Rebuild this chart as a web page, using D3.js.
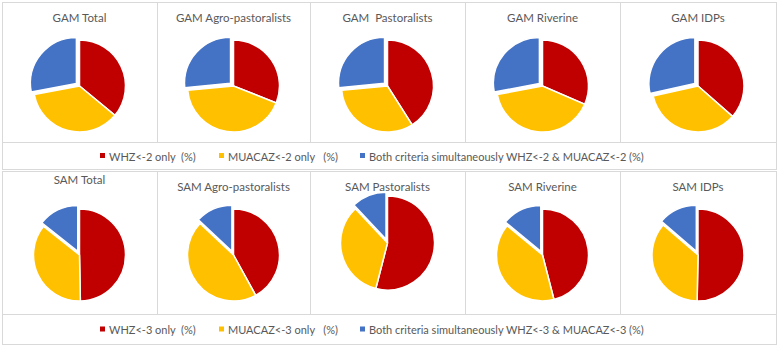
<!DOCTYPE html>
<html>
<head>
<meta charset="utf-8">
<script src="https://cdn.jsdelivr.net/npm/d3@7"></script>
<style>
  body { margin: 0; background: #fff; }
  text { font-family: Lato, "Open Sans", sans-serif; white-space: pre; }
</style>
</head>
<body>
<div id="chart"></div>
<script>
// Panel titles
const gamTitles = ['GAM Total', 'GAM Agro-pastoralists', 'GAM  Pastoralists', 'GAM Riverine', 'GAM IDPs'];
const samTitles = ['SAM Total', 'SAM Agro-pastoralists', 'SAM Pastoralists', 'SAM Riverine', 'SAM IDPs'];

// Shares (%), one value per panel
const gamWhzOnly = [36, 31, 41, 31.5, 36.5];
const gamMuacOnly = [36, 42.5, 32.5, 40.5, 35];
const gamBoth = [28, 26.5, 26.5, 28, 28.5];

const samWhzOnly = [49.7, 42, 54, 46, 50.3];
const samMuacOnly = [36, 45, 34, 40, 36];
const samBoth = [14.3, 13, 12, 14, 13.7];

// Legend labels
const gamLegend = ['WHZ<-2 only  (%)', 'MUACAZ<-2 only   (%)', 'Both criteria simultaneously WHZ<-2 & MUACAZ<-2 (%)'];
const samLegend = ['WHZ<-3 only  (%)', 'MUACAZ<-3 only   (%)', 'Both criteria simultaneously WHZ<-3 & MUACAZ<-3 (%)'];

const colors = ['#C00000', '#FFC000', '#4472C4'];

const width = 778;
const height = 346;

const svg = d3.select('#chart')
    .append('svg')
    .attr('width', width)
    .attr('height', height);

// Panel grid
const colEdges = [2, 157, 310, 465, 620, 776];
const rows = [
    { top: 2, bottom: 142, legendBottom: 169, titles: gamTitles, series: [gamWhzOnly, gamMuacOnly, gamBoth], legend: gamLegend, pieY: 86 },
    { top: 171, bottom: 314, legendBottom: 344, titles: samTitles, series: [samWhzOnly, samMuacOnly, samBoth], legend: samLegend, pieY: 255 }
];
const radius = 46;
const explode = 4;
const borderColor = '#d9d9d9';

const pie = d3.pie().sort(null).value(d => d);

rows.forEach((row, ri) => {
    row.titles.forEach((title, i) => {
        const x0 = colEdges[i];
        const x1 = colEdges[i + 1];
        const cx = (x0 + x1) / 2;

        // panel frame
        svg.append('rect')
            .attr('x', x0 + 0.5)
            .attr('y', row.top + 0.5)
            .attr('width', x1 - x0)
            .attr('height', row.bottom - row.top)
            .attr('fill', '#fff')
            .attr('stroke', borderColor)
            .attr('stroke-width', 1);

        // title (SAM Total sits a bit higher, like in the source)
        const titleY = ri === 0 ? 22 : (i === 0 ? 184 : 191);
        svg.append('text')
            .attr('x', cx)
            .attr('y', titleY)
            .attr('text-anchor', 'middle')
            .attr('fill', '#595959')
            .style('font-size', '11.5px')
            .text(title);

        // pie
        let cy = row.pieY;
        let r = radius;
        if (ri === 1 && i === 2) { cy = 243; r = 47; }
        const values = row.series.map(s => s[i]);
        const g = svg.append('g').attr('transform', `translate(${cx},${cy})`);
        const a = d3.arc().innerRadius(0).outerRadius(r);
        g.selectAll('path')
            .data(pie(values))
            .join('path')
            .attr('d', a)
            .attr('fill', (d, k) => colors[k])
            .attr('stroke', '#fff')
            .attr('stroke-width', 1.5)
            .attr('transform', (d, k) => {
                if (k !== 2) return null;
                const mid = (d.startAngle + d.endAngle) / 2;
                return `translate(${Math.sin(mid) * explode},${-Math.cos(mid) * explode})`;
            });
    });

    // legend box
    svg.append('rect')
        .attr('x', colEdges[0] + 0.5)
        .attr('y', row.bottom + 0.5)
        .attr('width', colEdges[colEdges.length - 1] - colEdges[0])
        .attr('height', row.legendBottom - row.bottom)
        .attr('fill', '#fff')
        .attr('stroke', borderColor)
        .attr('stroke-width', 1);

    const ly = (row.bottom + row.legendBottom) / 2 + 1;
    const legendX = [100, 219, 360];
    row.legend.forEach((label, k) => {
        svg.append('rect')
            .attr('x', legendX[k])
            .attr('y', ly - 3.5)
            .attr('width', 5)
            .attr('height', 5)
            .attr('fill', colors[k]);
        svg.append('text')
            .attr('x', legendX[k] + 9)
            .attr('y', ly + 4)
            .attr('fill', '#595959')
            .style('font-size', '11px')
            .text(label);
    });
});
</script>
</body>
</html>
